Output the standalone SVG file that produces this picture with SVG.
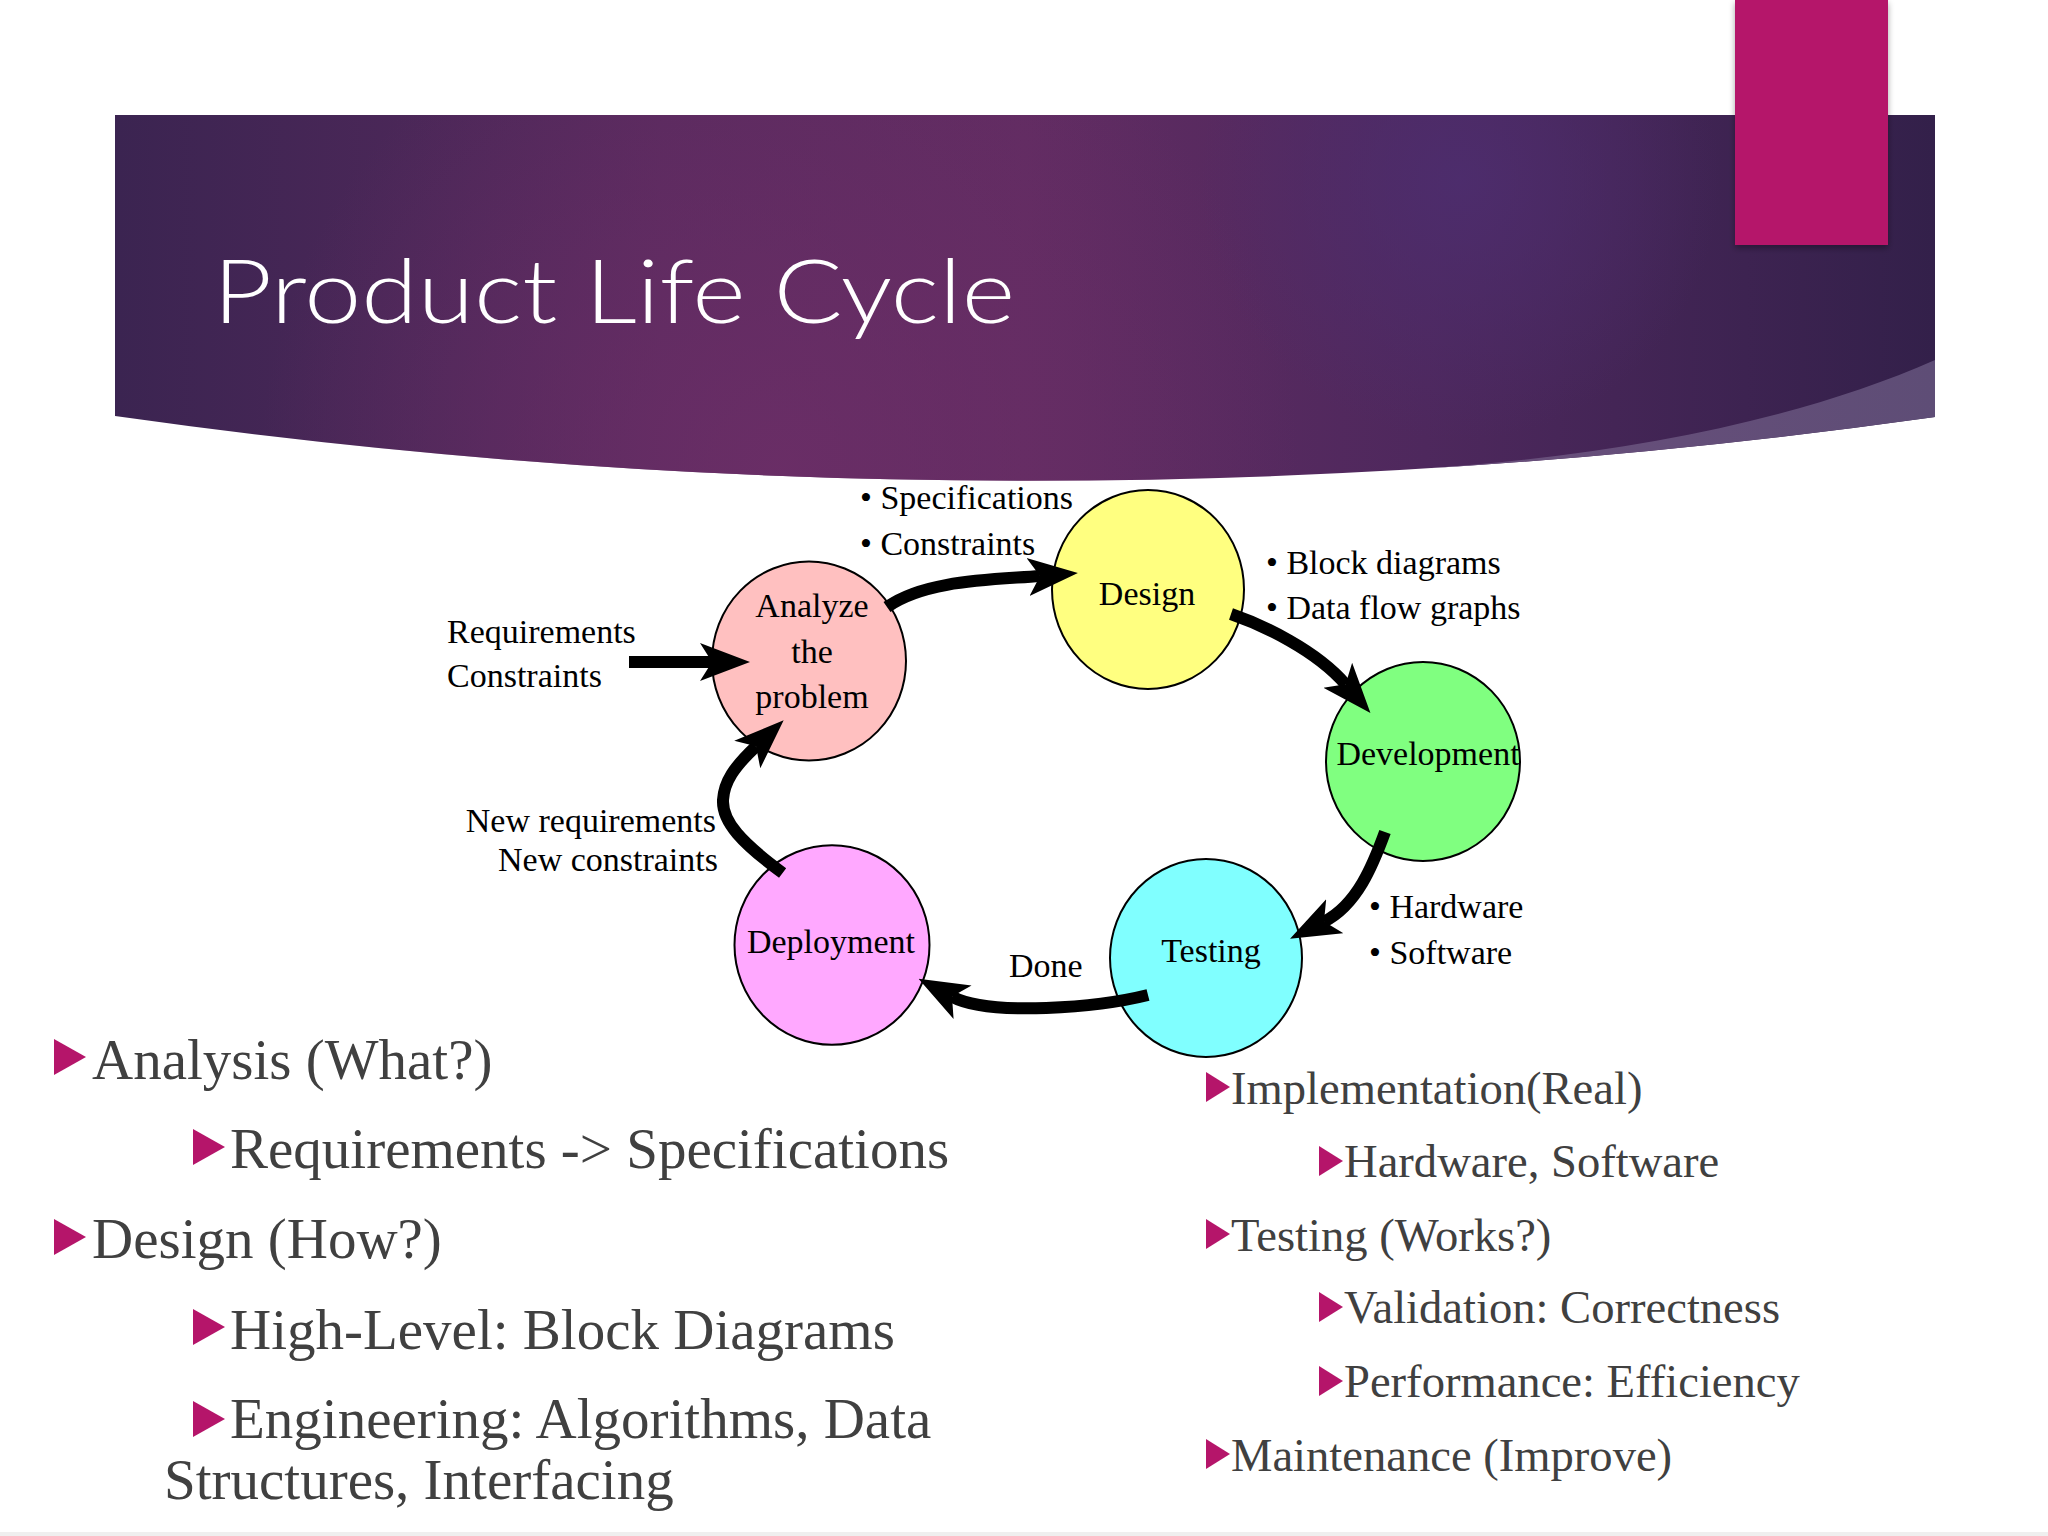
<svg xmlns="http://www.w3.org/2000/svg" width="2048" height="1536" viewBox="0 0 2048 1536">
  <defs>
    <linearGradient id="bannerBase" x1="0" y1="0" x2="1" y2="0">
      <stop offset="0" stop-color="#3b2451"/>
      <stop offset="0.3" stop-color="#582a5e"/>
      <stop offset="0.5" stop-color="#612c62"/>
      <stop offset="0.72" stop-color="#4e285d"/>
      <stop offset="1" stop-color="#33204a"/>
    </linearGradient>
    <radialGradient id="bannerGlow" cx="780" cy="470" r="520" gradientUnits="userSpaceOnUse">
      <stop offset="0" stop-color="#6c2e67" stop-opacity="0.85"/>
      <stop offset="1" stop-color="#6c2e67" stop-opacity="0"/>
    </radialGradient>
    <radialGradient id="blueGlow" cx="1460" cy="180" r="260" gradientUnits="userSpaceOnUse">
      <stop offset="0" stop-color="#4d2d6e" stop-opacity="0.9"/>
      <stop offset="1" stop-color="#4d2d6e" stop-opacity="0"/>
    </radialGradient>
    <linearGradient id="wedge" x1="0" y1="0" x2="1" y2="0">
      <stop offset="0" stop-color="#6a4f7c"/>
      <stop offset="1" stop-color="#5e4d76"/>
    </linearGradient>
    <filter id="shadow" x="-10%" y="-10%" width="120%" height="120%">
      <feDropShadow dx="0" dy="3" stdDeviation="3" flood-color="#000" flood-opacity="0.35"/>
    </filter>
    <marker id="head" viewBox="0 0 50 40" refX="12" refY="20" markerWidth="50" markerHeight="40" markerUnits="userSpaceOnUse" orient="auto">
      <path d="M0,1 L50,20 L0,39 L12,20 Z" fill="#000"/>
    </marker>
    <polygon id="triBig" points="0,0 32,18 0,36"/>
    <polygon id="triSmall" points="0,0 24,15 0,30"/>
  </defs>
  <style>
    .node ellipse { stroke: #000; stroke-width: 2; }
    .ntext { font-family: "Liberation Serif", "Times New Roman", serif; font-size: 34px; fill: #000; text-anchor: middle; }
    .lbl { font-family: "Liberation Serif", "Times New Roman", serif; font-size: 34px; fill: #000; }
    .conn path { fill: none; stroke: #000; stroke-width: 12; stroke-linecap: butt; marker-end: url(#head); }
    .b1 { font-family: "Liberation Serif", "Times New Roman", serif; font-size: 57px; fill: #404040; }
    .b2 { font-family: "Liberation Serif", "Times New Roman", serif; font-size: 46.6px; fill: #404040; }
    .tri { fill: #b5156a; }
  </style>

  <rect x="0" y="0" width="2048" height="1536" fill="#ffffff"/>

  <!-- Title banner -->
  <g id="banner">
    <path d="M115 115 L1935 115 L1935 417 Q1025 545 115 416 Z" fill="url(#bannerBase)"/>
    <path d="M115 115 L1935 115 L1935 417 Q1025 545 115 416 Z" fill="url(#bannerGlow)"/>
    <path d="M115 115 L1935 115 L1935 417 Q1025 545 115 416 Z" fill="url(#blueGlow)"/>
    <path d="M1430 468.2 Q1682.4 452.5 1935 417 L1935 360 C1800 420 1620 455 1430 468.2 Z" fill="url(#wedge)"/>
    <rect x="1735" y="0" width="153" height="245" fill="#b5156a" filter="url(#shadow)"/>
    <text x="213" y="323" font-family="Lato, 'Open Sans', 'DejaVu Sans', sans-serif" font-weight="300" font-size="89" fill="#ffffff" textLength="802" lengthAdjust="spacingAndGlyphs">Product Life Cycle</text>
  </g>

  <!-- Nodes -->
  <g id="node-analyze" class="node">
    <ellipse cx="809" cy="661" rx="97" ry="99.5" fill="#ffc0c0"/>
    <text class="ntext" x="812" y="617">Analyze</text>
    <text class="ntext" x="812" y="663">the</text>
    <text class="ntext" x="812" y="708">problem</text>
  </g>
  <g id="node-design" class="node">
    <ellipse cx="1148" cy="589.5" rx="96" ry="99.5" fill="#ffff80"/>
    <text class="ntext" x="1147" y="605">Design</text>
  </g>
  <g id="node-development" class="node">
    <ellipse cx="1423" cy="761.5" rx="97" ry="99.5" fill="#80ff80"/>
    <text class="ntext" x="1428" y="765">Development</text>
  </g>
  <g id="node-testing" class="node">
    <ellipse cx="1206" cy="958" rx="96" ry="99" fill="#80ffff"/>
    <text class="ntext" x="1211" y="962">Testing</text>
  </g>
  <g id="node-deployment" class="node">
    <ellipse cx="832" cy="945" rx="97.5" ry="99.7" fill="#ffa8ff"/>
    <text class="ntext" x="831" y="953">Deployment</text>
  </g>

  <!-- Connectors (drawn over the nodes, as in the reference) -->
  <g id="connectors" class="conn">
    <path id="c-req-analyze" d="M629 662 L712 662"/>
    <path id="c-analyze-design" d="M887 607 C925 580 990 580 1040 576"/>
    <path id="c-design-dev" d="M1231 614 C1263 625 1316 650 1345.6 684.3"/>
    <path id="c-dev-test" d="M1385 832 C1373 865 1357 905 1324 921.6"/>
    <path id="c-test-deploy" d="M1148 995 C1100 1007 990 1017 952 996.6"/>
    <path id="c-deploy-analyze" d="M782.6 873 C742 843 722 822 723 800 C724 782 734 767 756 746.3"/>
  </g>

  <!-- Labels -->
  <g id="labels">
    <text class="lbl" x="447" y="643">Requirements</text>
    <text class="lbl" x="447" y="687">Constraints</text>
    <text class="lbl" x="860" y="509">• Specifications</text>
    <text class="lbl" x="860" y="555">• Constraints</text>
    <text class="lbl" x="1266" y="574">• Block diagrams</text>
    <text class="lbl" x="1266" y="619">• Data flow graphs</text>
    <text class="lbl" x="1369" y="918">• Hardware</text>
    <text class="lbl" x="1369" y="964">• Software</text>
    <text class="lbl" x="1009" y="977">Done</text>
    <text class="lbl" x="716" y="832" text-anchor="end">New requirements</text>
    <text class="lbl" x="718" y="871" text-anchor="end">New constraints</text>
  </g>

  <!-- Left bullet list -->
  <g id="list-left">
    <use href="#triBig" class="tri" x="54" y="1039"/>
    <text class="b1" x="92" y="1079">Analysis (What?)</text>
    <use href="#triBig" class="tri" x="193" y="1129"/>
    <text class="b1" x="230" y="1168">Requirements -&gt; Specifications</text>
    <use href="#triBig" class="tri" x="54" y="1219"/>
    <text class="b1" x="92" y="1258">Design (How?)</text>
    <use href="#triBig" class="tri" x="193" y="1309"/>
    <text class="b1" x="230" y="1349">High-Level: Block Diagrams</text>
    <use href="#triBig" class="tri" x="193" y="1401"/>
    <text class="b1" x="230" y="1438">Engineering: Algorithms, Data</text>
    <text class="b1" x="164" y="1499">Structures, Interfacing</text>
  </g>

  <!-- Right bullet list -->
  <g id="list-right">
    <use href="#triSmall" class="tri" x="1206" y="1072"/>
    <text class="b2" x="1231" y="1104">Implementation(Real)</text>
    <use href="#triSmall" class="tri" x="1319" y="1146"/>
    <text class="b2" x="1344" y="1177">Hardware, Software</text>
    <use href="#triSmall" class="tri" x="1206" y="1219"/>
    <text class="b2" x="1231" y="1251">Testing (Works?)</text>
    <use href="#triSmall" class="tri" x="1319" y="1292"/>
    <text class="b2" x="1344" y="1323">Validation: Correctness</text>
    <use href="#triSmall" class="tri" x="1319" y="1366"/>
    <text class="b2" x="1344" y="1397">Performance: Efficiency</text>
    <use href="#triSmall" class="tri" x="1206" y="1439"/>
    <text class="b2" x="1231" y="1471">Maintenance (Improve)</text>
  </g>

  <rect x="0" y="1532" width="2048" height="4" fill="#efefef"/>
</svg>
